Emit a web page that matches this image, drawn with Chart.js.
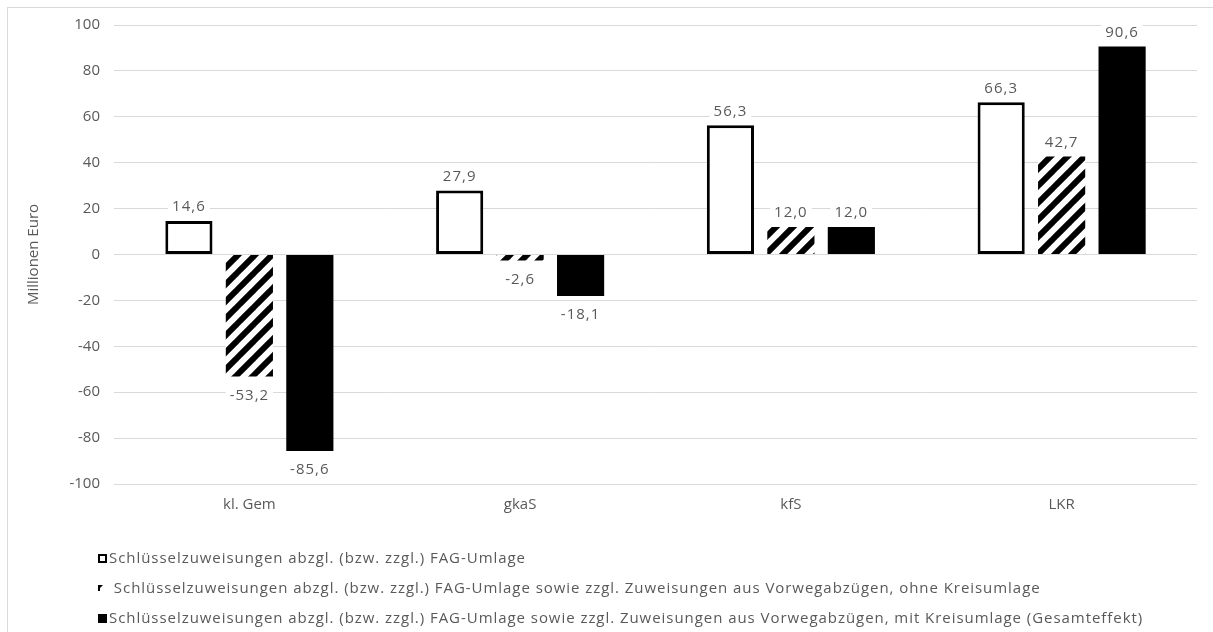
<!DOCTYPE html>
<html>
<head>
<meta charset="utf-8">
<script src="https://cdn.jsdelivr.net/npm/chart.js@4"></script>
<style>
  html, body { margin: 0; padding: 0; background: #fff; overflow: hidden; }
  #frame { position: absolute; left: 7px; top: 7px; width: 1220px; height: 640px; border: 1px solid #d9d9d9; }
  #chart { position: absolute; left: 0; top: 0; }
</style>
</head>
<body>
<div id="frame"></div>
<canvas id="chart" width="1213" height="632"></canvas>
<script>
// categories and series (Millionen Euro)
const categories = ["kl. Gem", "gkaS", "kfS", "LKR"];
const seriesNames = [
  "Schlüsselzuweisungen abzgl. (bzw. zzgl.) FAG-Umlage",
  "Schlüsselzuweisungen abzgl. (bzw. zzgl.) FAG-Umlage sowie zzgl. Zuweisungen aus Vorwegabzügen, ohne Kreisumlage",
  "Schlüsselzuweisungen abzgl. (bzw. zzgl.) FAG-Umlage sowie zzgl. Zuweisungen aus Vorwegabzügen, mit Kreisumlage (Gesamteffekt)"
];
const fagUmlage = [14.6, 27.9, 56.3, 66.3];
const ohneKreisumlage = [-53.2, -2.6, 12.0, 42.7];
const gesamteffekt = [-85.6, -18.1, 12.0, 90.6];
const yMin = -100, yMax = 100, yStep = 20;
const yTitle = "Millionen Euro";

const FONT = "'Open Sans', sans-serif";
const TEXT = "#595959";
const GRID = "#d9d9d9";

function makeHatch() {
  const c = document.createElement("canvas");
  c.width = 17; c.height = 17;
  const g = c.getContext("2d");
  g.fillStyle = "#fff";
  g.fillRect(0, 0, 17, 17);
  g.strokeStyle = "#000";
  g.lineWidth = 6;
  [-17, 0, 17].forEach(k => {
    g.beginPath();
    g.moveTo(k - 2, 19);
    g.lineTo(k + 19, -2);
    g.stroke();
  });
  return g.createPattern(c, "repeat");
}

const canvas = document.getElementById("chart");
const ctx = canvas.getContext("2d");
const hatch = makeHatch();

function fmt(v) {
  return v.toFixed(1).replace(".", ",");
}

// value labels with white box behind them
const valueLabels = {
  id: "valueLabels",
  afterDatasetsDraw(chart) {
    const c = chart.ctx;
    c.save();
    c.font = "15px " + FONT;
    c.letterSpacing = "1px";
    c.textAlign = "center";
    c.textBaseline = "middle";
    chart.data.datasets.forEach((ds, i) => {
      chart.getDatasetMeta(i).data.forEach((bar, j) => {
        const v = ds.data[j];
        const txt = fmt(v);
        const y = v >= 0 ? bar.y - 14 : bar.y + 19;
        const w = c.measureText(txt).width;
        c.fillStyle = "#fff";
        c.fillRect(bar.x - w / 2 - 4, y - 9, w + 8, 18);
        c.fillStyle = TEXT;
        c.fillText(txt, bar.x, y);
      });
    });
    c.restore();
  }
};

// legend stacked in rows below the axis
const rowLegend = {
  id: "rowLegend",
  afterDraw(chart) {
    const c = chart.ctx;
    const rows = [559, 589, 619];
    c.save();
    c.font = "15px " + FONT;
    c.letterSpacing = "0.95px";
    c.textBaseline = "middle";
    c.fillStyle = TEXT;
    seriesNames.forEach((name, i) => {
      const y = rows[i];
      if (i === 0) {
        c.fillStyle = "#fff";
        c.fillRect(98, y - 5, 9, 9);
        c.strokeStyle = "#000";
        c.lineWidth = 2;
        c.strokeRect(99, y - 4, 7, 7);
      } else if (i === 1) {
        c.fillStyle = "#000";
        c.beginPath();
        c.moveTo(98, y - 4);
        c.lineTo(103, y - 4);
        c.lineTo(100, y - 1);
        c.lineTo(100, y + 2);
        c.lineTo(98, y + 2);
        c.closePath();
        c.fill();
      } else {
        c.fillStyle = "#000";
        c.fillRect(98, y - 5, 9, 9);
      }
      c.fillStyle = TEXT;
      c.fillText(i === 1 ? " " + name : name, 109, y);
    });
    c.restore();
  }
};

new Chart(ctx, {
  type: "bar",
  data: {
    labels: categories,
    datasets: [
      {
        label: seriesNames[0],
        data: fagUmlage,
        backgroundColor: "#fff",
        borderColor: "#000",
        borderWidth: 3,
        borderSkipped: false
      },
      {
        label: seriesNames[1],
        data: ohneKreisumlage,
        backgroundColor: hatch,
        borderWidth: 0
      },
      {
        label: seriesNames[2],
        data: gesamteffekt,
        backgroundColor: "#000",
        borderWidth: 0
      }
    ]
  },
  options: {
    responsive: false,
    animation: false,
    categoryPercentage: 0.67,
    barPercentage: 0.78,
    layout: { padding: { left: 0, right: 16, top: 25, bottom: 108 } },
    plugins: {
      legend: { display: false },
      tooltip: { enabled: false }
    },
    scales: {
      x: {
        grid: { display: false, drawTicks: false },
        border: { display: false },
        ticks: { color: TEXT, font: { family: FONT, size: 15 }, padding: 12 },
        afterFit(scale) { scale.height = 40; }
      },
      y: {
        min: yMin,
        max: yMax,
        ticks: { stepSize: yStep, color: TEXT, font: { family: FONT, size: 15 }, padding: 14 },
        grid: { color: GRID, lineWidth: 1, drawTicks: false },
        border: { display: false },
        title: {
          display: true,
          text: yTitle,
          color: TEXT,
          font: { family: FONT, size: 15 },
          padding: { top: 25, bottom: 0 }
        },
        afterFit(scale) { scale.width = 114; }
      }
    }
  },
  plugins: [valueLabels, rowLegend]
});
</script>
</body>
</html>
